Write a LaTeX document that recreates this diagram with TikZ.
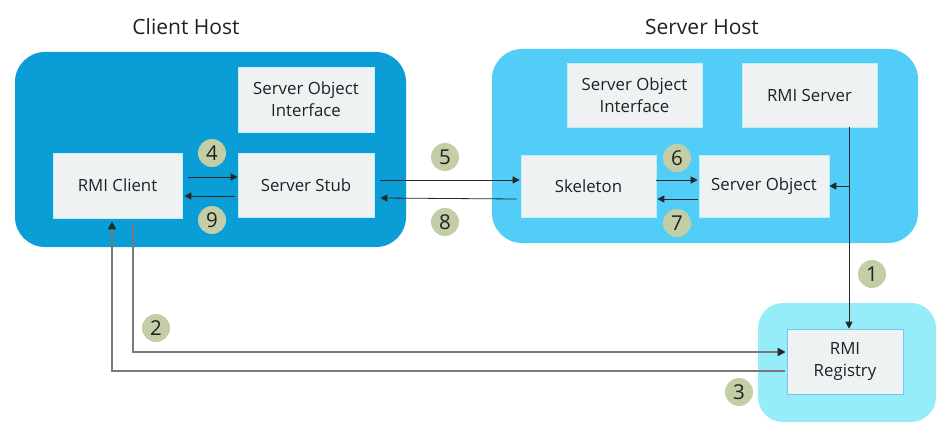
\documentclass[tikz,border=0pt]{standalone}
\usepackage{fontspec}
\setmainfont{Open Sans}
\usetikzlibrary{arrows.meta}
\definecolor{clientc}{RGB}{10,157,214}
\definecolor{serverc}{RGB}{82,205,248}
\definecolor{regc}{RGB}{150,237,249}
\definecolor{boxc}{RGB}{238,242,243}
\definecolor{boxl}{RGB}{190,238,252}
\definecolor{numc}{RGB}{196,206,166}
\definecolor{txtc}{RGB}{30,34,36}
\definecolor{linec}{RGB}{40,40,40}
\definecolor{grayl}{RGB}{120,122,122}
\begin{document}
\begin{tikzpicture}[x=1pt,y=-1pt,
  host/.style={rounded corners=30pt, inner sep=0pt},
  compbox/.style={fill=boxc, draw=boxl, line width=0.6pt, inner sep=0pt, align=center,
     font=\fontsize{16.8}{22}\selectfont, text=txtc},
  numcirc/.style={circle, fill=numc, minimum size=28pt, inner sep=0pt,
     font=\fontsize{20.5}{20}\selectfont, text=txtc},
  title/.style={font=\fontsize{21}{24}\selectfont, text=txtc},
  arr/.style={draw=linec, line width=0.8pt, -{Triangle[length=7pt,width=7pt]}},
  arrg/.style={draw=grayl, line width=1.4pt, -{Triangle[length=8pt,width=8pt,color=linec]}}
]
\useasboundingbox[fill=white] (0,0) rectangle (947,436);

% hosts
\node[host, fill=clientc, minimum width=391pt, minimum height=195pt] (chost) at (210.5,149.5) {};
\node[host, fill=serverc, minimum width=426pt, minimum height=194pt] (shost) at (705,146) {};
\node[host, rounded corners=25pt, fill=regc, minimum width=178pt, minimum height=119pt] (rhost) at (847,362.5) {};

\node[title] (ctitle) at (186,27) {Client Host};
\node[title] (stitle) at (702,27) {Server Host};

% components
\node[compbox, minimum width=136pt, minimum height=65pt] (soic) at (306,99.5) {Server Object\\Interface};
\node[compbox, minimum width=129pt, minimum height=65pt] (rmic) at (117.5,185.5) {RMI Client};
\node[compbox, minimum width=136pt, minimum height=64pt] (stub) at (306,185.5) {Server Stub};
\node[compbox, minimum width=135pt, minimum height=64pt] (sois) at (634.5,95) {Server Object\\Interface};
\node[compbox, minimum width=135pt, minimum height=64pt] (rmis) at (809.5,95) {RMI Server};
\node[compbox, minimum width=135pt, minimum height=62pt] (skel) at (588.5,186) {Skeleton};
\node[compbox, minimum width=130pt, minimum height=62pt] (sobj) at (764,186) {Server Object};
\node[compbox, minimum width=116pt, minimum height=65pt, draw={rgb,255:red,110;green,200;blue,240}] (reg) at (845,361.5) {RMI\\Registry};

% connectors
\draw[arr] ([shift={(6,-8.5)}]rmic.east) -- ([shift={(0,-8.5)}]stub.west);
\draw[arr] ([shift={(-3,10.5)}]stub.west) -- ([shift={(2,10.5)}]rmic.east);
\draw[arr] ([shift={(6,-5.5)}]stub.east) -- ([shift={(-1,-6)}]skel.west);
\draw[arr] ([shift={(-4,13)}]skel.west) -- ([shift={(6,12.5)}]stub.east);
\draw[arr] ([shift={(0,-6)}]skel.east) -- ([shift={(-1,-6)}]sobj.west);
\draw[arr] ([shift={(-1,13)}]sobj.west) -- ([shift={(1,13)}]skel.east);

\coordinate (p1) at ([xshift=39.5pt]rmis.south);
\draw[arr] (p1) -- (p1 |- reg.north);
\draw[arr] (p1 |- sobj.east) -- (sobj.east);

\draw[arrg] ([shift={(15.5,5)}]rmic.south) |- ([shift={(-1,-9.5)}]reg.west);
\draw[arrg] ([shift={(-2,9.5)}]reg.west) -| ([shift={(-5.5,3)}]rmic.south);

% step numbers
\node[numcirc] (n1) at (872,274) {1};
\node[numcirc] (n2) at (156,328) {2};
\node[numcirc] (n3) at (739,392) {3};
\node[numcirc] (n4) at (212,153) {4};
\node[numcirc] (n5) at (445,157) {5};
\node[numcirc] (n6) at (677,158) {6};
\node[numcirc] (n7) at (677,223) {7};
\node[numcirc] (n8) at (445,222) {8};
\node[numcirc] (n9) at (212,220) {9};
\end{tikzpicture}
\end{document}
